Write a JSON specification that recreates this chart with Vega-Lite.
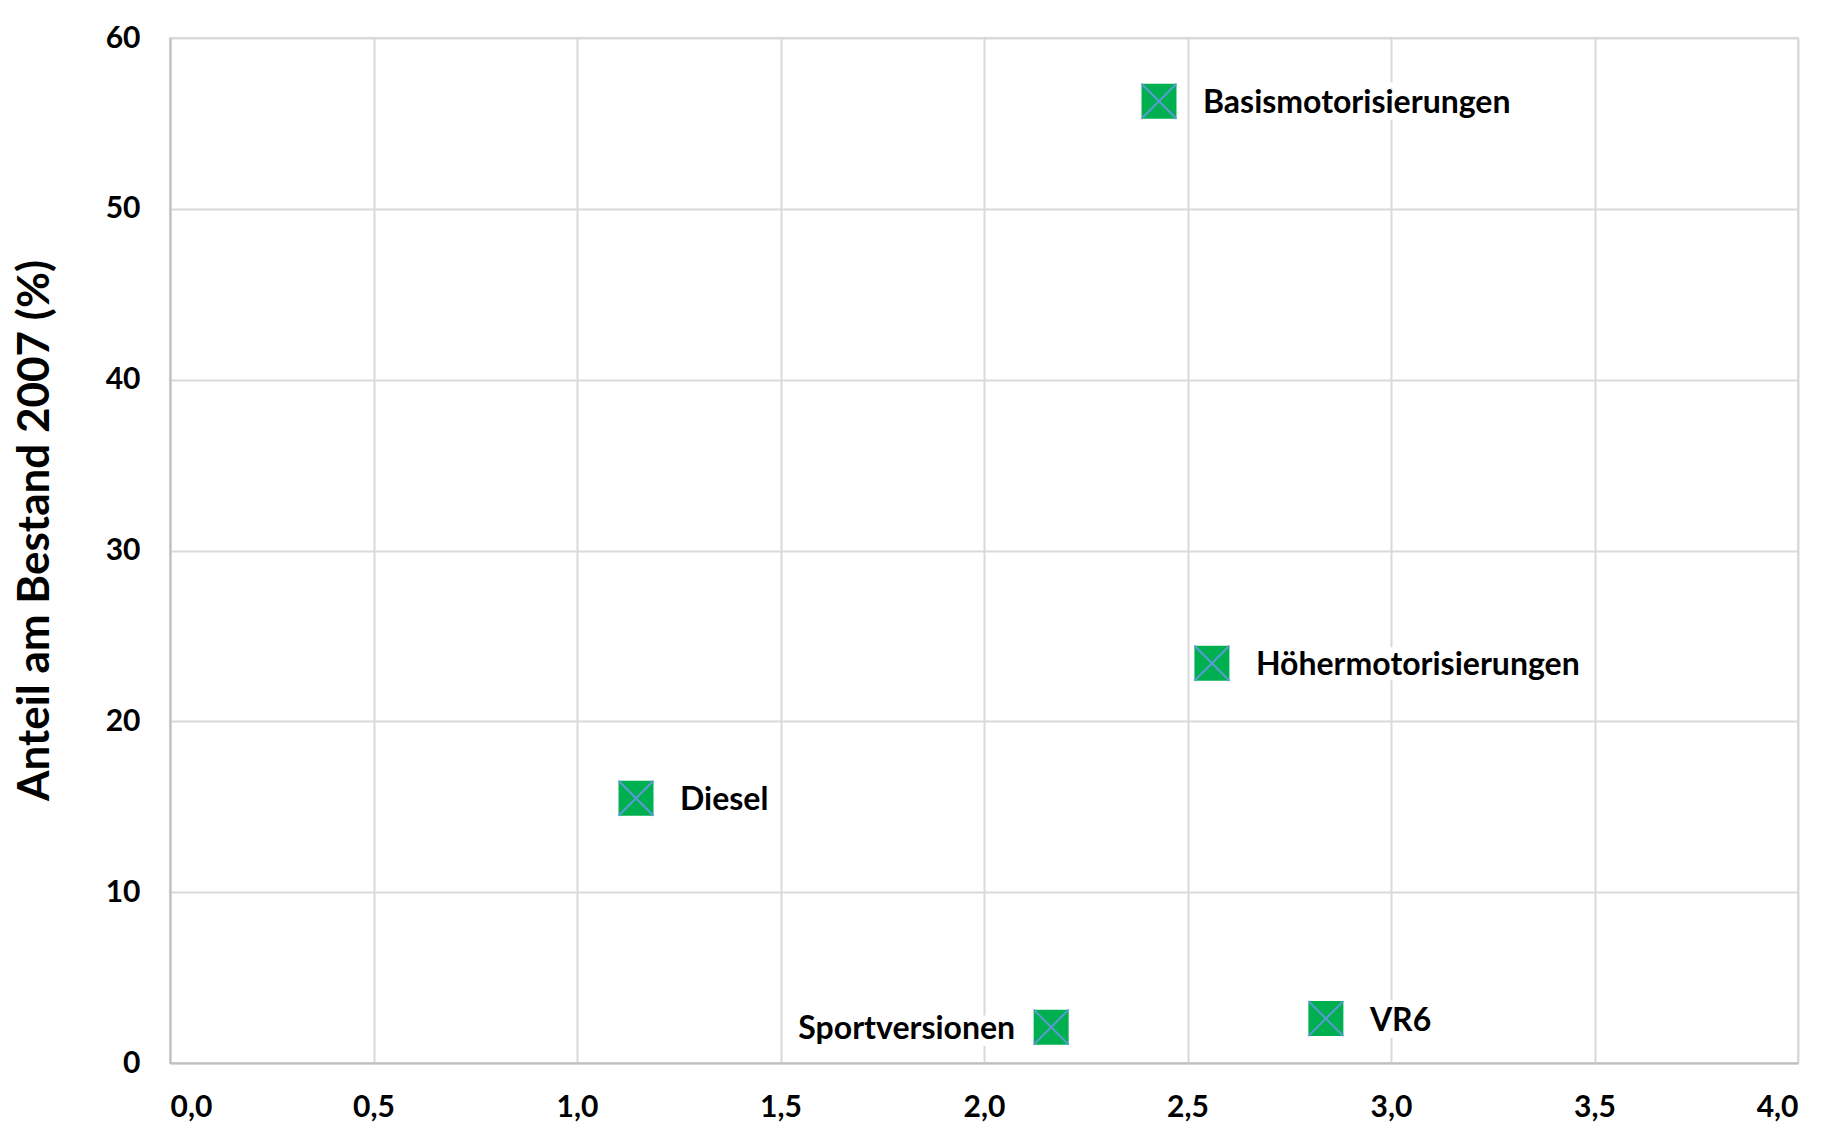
{
  "$schema": "https://vega.github.io/schema/vega-lite/v6.json",
  "width": 1628,
  "height": 1025,
  "autosize": {"type": "none"},
  "padding": {"left": 170, "top": 38, "right": 25, "bottom": 74},
  "background": "white",
  "config": {
    "font": "Lato",
    "view": {"stroke": "#d9d9d9", "strokeWidth": 2},
    "axis": {
      "gridColor": "#d9d9d9",
      "gridWidth": 2,
      "domainColor": "#bfbfbf",
      "domainWidth": 2,
      "ticks": false,
      "labelFont": "Lato",
      "labelFontWeight": "bold",
      "labelFontSize": 30,
      "labelColor": "#000000",
      "titleFont": "Lato",
      "titleFontWeight": "bold",
      "titleColor": "#000000"
    }
  },
  "data": {
    "values": [
      {"name": "Basismotorisierungen", "x": 2.43, "y": 56.3},
      {"name": "Höhermotorisierungen", "x": 2.56, "y": 23.4},
      {"name": "Diesel", "x": 1.145, "y": 15.5},
      {"name": "Sportversionen", "x": 2.165, "y": 2.1},
      {"name": "VR6", "x": 2.84, "y": 2.6}
    ]
  },
  "encoding": {
    "x": {
      "field": "x",
      "type": "quantitative",
      "scale": {"domain": [0, 4], "nice": false, "zero": false},
      "axis": {
        "values": [0, 0.5, 1, 1.5, 2, 2.5, 3, 3.5, 4],
        "labelExpr": "replace(format(datum.value, '.1f'), '.', ',')",
        "labelPadding": 29,
        "title": null
      }
    },
    "y": {
      "field": "y",
      "type": "quantitative",
      "scale": {"domain": [0, 60], "nice": false},
      "axis": {
        "values": [0, 10, 20, 30, 40, 50, 60],
        "labelPadding": 30,
        "title": "Anteil am Bestand 2007 (%)",
        "titleFontSize": 44,
        "titleX": -135,
        "titleY": 492,
        "titleAngle": -90,
        "titleBaseline": "middle",
        "titleAlign": "center"
      }
    }
  },
  "layer": [
    {
      "transform": [{"filter": "datum.name !== 'Sportversionen'"}],
      "mark": {"type": "text", "align": "left", "baseline": "middle", "dx": 44, "dy": 2, "fontSize": 32, "fontWeight": "bold", "font": "Lato", "color": "white", "stroke": "white", "strokeWidth": 14},
      "encoding": {"text": {"field": "name"}}
    },
    {
      "transform": [{"filter": "datum.name === 'Sportversionen'"}],
      "mark": {"type": "text", "align": "right", "baseline": "middle", "dx": -36, "dy": 2, "fontSize": 32, "fontWeight": "bold", "font": "Lato", "color": "white", "stroke": "white", "strokeWidth": 14},
      "encoding": {"text": {"field": "name"}}
    },
    {
      "mark": {"type": "point", "shape": "square", "filled": true, "color": "#00b050", "size": 1225, "opacity": 1}
    },
    {
      "mark": {"type": "point", "shape": "M-1,-1L1,1M-1,1L1,-1", "filled": false, "stroke": "#5b9bd5", "strokeWidth": 2, "size": 1225, "opacity": 1}
    },
    {
      "transform": [{"filter": "datum.name !== 'Sportversionen'"}],
      "mark": {"type": "text", "align": "left", "baseline": "middle", "dx": 44, "dy": 2, "fontSize": 32, "fontWeight": "bold", "font": "Lato", "color": "#000000"},
      "encoding": {"text": {"field": "name"}}
    },
    {
      "transform": [{"filter": "datum.name === 'Sportversionen'"}],
      "mark": {"type": "text", "align": "right", "baseline": "middle", "dx": -36, "dy": 2, "fontSize": 32, "fontWeight": "bold", "font": "Lato", "color": "#000000"},
      "encoding": {"text": {"field": "name"}}
    }
  ]
}
